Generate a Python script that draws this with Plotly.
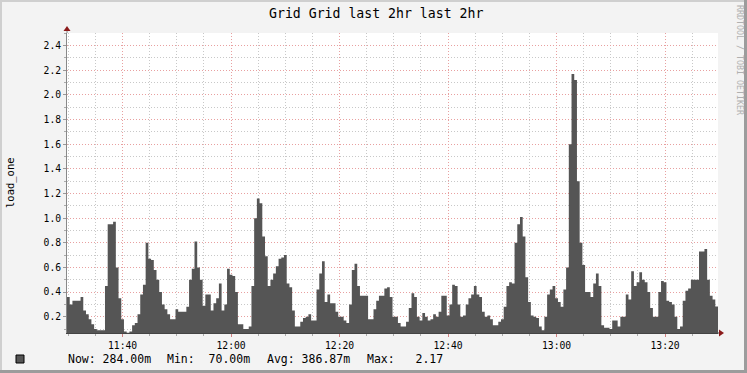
import pandas as pd
import plotly.graph_objects as go

# ---- data (load_one, 30 s steps, from 11:29:45) ----
start_time = "2024-01-01 11:29:45"
step_seconds = 30
load_one = [
    0.36, 0.30, 0.33, 0.33, 0.33, 0.36, 0.25, 0.22, 0.18, 0.14,
    0.10, 0.09, 0.09, 0.09, 0.45, 0.95, 0.95, 0.97, 0.60, 0.35,
    0.18, 0.08, 0.07, 0.08, 0.13, 0.15, 0.22, 0.38, 0.46, 0.80,
    0.67, 0.66, 0.58, 0.50, 0.40, 0.30, 0.26, 0.22, 0.18, 0.18,
    0.26, 0.24, 0.24, 0.24, 0.28, 0.50, 0.59, 0.81, 0.60, 0.50,
    0.29, 0.38, 0.38, 0.25, 0.31, 0.35, 0.47, 0.25, 0.30, 0.59,
    0.54, 0.53, 0.40, 0.14, 0.14, 0.10, 0.10, 0.12, 0.45, 1.00,
    1.16, 1.12, 0.85, 0.69, 0.45, 0.50, 0.55, 0.61, 0.67, 0.68,
    0.70, 0.47, 0.44, 0.25, 0.12, 0.12, 0.16, 0.19, 0.20, 0.22,
    0.17, 0.17, 0.42, 0.55, 0.65, 0.32, 0.38, 0.31, 0.31, 0.24,
    0.20, 0.20, 0.17, 0.15, 0.30, 0.58, 0.63, 0.45, 0.37, 0.37,
    0.37, 0.18, 0.18, 0.26, 0.33, 0.37, 0.37, 0.43, 0.44, 0.36,
    0.20, 0.20, 0.15, 0.12, 0.12, 0.16, 0.27, 0.39, 0.36, 0.20,
    0.17, 0.23, 0.20, 0.17, 0.18, 0.22, 0.20, 0.24, 0.37, 0.37,
    0.21, 0.30, 0.46, 0.45, 0.30, 0.20, 0.21, 0.30, 0.35, 0.38,
    0.45, 0.38, 0.36, 0.24, 0.20, 0.21, 0.18, 0.13, 0.13, 0.16,
    0.18, 0.28, 0.45, 0.48, 0.47, 0.80, 0.95, 1.01, 0.85, 0.52,
    0.32, 0.21, 0.20, 0.19, 0.12, 0.09, 0.20, 0.38, 0.42, 0.45,
    0.35, 0.32, 0.28, 0.42, 0.60, 1.60, 2.17, 2.12, 1.30, 0.80,
    0.62, 0.40, 0.40, 0.36, 0.47, 0.55, 0.45, 0.13, 0.11, 0.11,
    0.10, 0.17, 0.17, 0.12, 0.20, 0.20, 0.38, 0.34, 0.57, 0.45,
    0.48, 0.56, 0.50, 0.48, 0.40, 0.27, 0.20, 0.20, 0.40, 0.49,
    0.48, 0.33, 0.32, 0.30, 0.20, 0.10, 0.12, 0.33, 0.41, 0.43,
    0.50, 0.50, 0.50, 0.73, 0.73, 0.75, 0.50, 0.37, 0.34, 0.284,
]
y_range = [0.068, 2.502]
x_tick0 = "2024-01-01 11:40:00"
title_text = "Grid Grid last 2hr last 2hr"
y_title = "load_one"
watermark = "RRDTOOL / TOBI OETIKER"
legend_items = ["Now:\u00a0284.00m", "Min:\u00a0\u00a070.00m",
                "Avg:\u00a0386.87m", "Max:\u00a0\u00a0\u00a02.17"]

# step times (plus closing edge of last step)
times = pd.date_range(start_time, periods=len(load_one) + 1,
                      freq=f"{step_seconds}s")
ys = load_one + [load_one[-1]]

# ---- geometry (pixels) ----
W, H = 747, 373
L, R, T, B = 67, 29, 33, 40
PW, PH = W - L - R, H - T - B


def px(x):
    return (x - L) / PW


def py(y):
    return (H - B - y) / PH


MONO = "DejaVu Sans Mono"
AREA = "#555555"

fig = go.Figure()
fig.add_trace(go.Scatter(
    x=times, y=ys, mode="lines", line=dict(shape="hv", width=0, color=AREA),
    fill="tozeroy", fillcolor=AREA, hoverinfo="skip", showlegend=False))

grid_minor = "#c8c8c8"
grid_major = "#e8a0a0"
DASH = "1px,2px"

fig.update_layout(
    width=W, height=H, margin=dict(l=L, r=R, t=T, b=B, pad=0),
    paper_bgcolor="#f3f3f3", plot_bgcolor="#ffffff",
    showlegend=False,
    font=dict(family=MONO, size=10, color="#000000"),
    xaxis=dict(
        type="date", range=[times[0], times[-1]],
        tick0=x_tick0, dtick=20 * 60 * 1000, tickformat="%H:%M",
        showgrid=True, gridcolor=grid_major, griddash=DASH, gridwidth=1,
        ticks="outside", ticklen=3, tickcolor="#d08080",
        tickfont=dict(family=MONO, size=9.7, color="#000000"),
        showline=True, linecolor="#444444", linewidth=1,
        zeroline=False, fixedrange=True,
        minor=dict(dtick=5 * 60 * 1000, showgrid=True, gridcolor=grid_minor,
                   griddash=DASH, ticks="outside", ticklen=2,
                   tickcolor="#aaaaaa"),
    ),
    yaxis=dict(
        range=y_range, tick0=0, dtick=0.2, tickformat=".1f",
        showgrid=True, gridcolor=grid_major, griddash=DASH, gridwidth=1,
        ticks="outside", ticklen=3, tickcolor="#999999",
        tickfont=dict(family=MONO, size=9.7, color="#000000"),
        showline=True, linecolor="#888888", linewidth=1,
        zeroline=False, fixedrange=True,
        minor=dict(dtick=0.1, showgrid=True, gridcolor=grid_minor,
                   griddash=DASH, ticks="outside", ticklen=2,
                   tickcolor="#aaaaaa"),
    ),
)

shapes = []
# frame of the image
shapes.append(dict(type="rect", xref="paper", yref="paper", layer="above",
                   x0=px(0), x1=px(W), y0=py(0), y1=py(2),
                   fillcolor="#cfcfcf", line=dict(width=0)))
shapes.append(dict(type="rect", xref="paper", yref="paper", layer="above",
                   x0=px(0), x1=px(2), y0=py(0), y1=py(H),
                   fillcolor="#cfcfcf", line=dict(width=0)))
shapes.append(dict(type="rect", xref="paper", yref="paper", layer="above",
                   x0=px(0), x1=px(W), y0=py(H - 3), y1=py(H),
                   fillcolor="#9c9c9c", line=dict(width=0)))
shapes.append(dict(type="rect", xref="paper", yref="paper", layer="above",
                   x0=px(W - 3), x1=px(W), y0=py(0), y1=py(H),
                   fillcolor="#9c9c9c", line=dict(width=0)))
# axis extensions and arrows
shapes.append(dict(type="line", xref="paper", yref="paper",
                   x0=0, x1=0, y0=1, y1=py(29),
                   line=dict(color="#888888", width=1)))
shapes.append(dict(type="line", xref="paper", yref="paper",
                   x0=1, x1=px(720), y0=0, y1=0,
                   line=dict(color="#444444", width=1)))
shapes.append(dict(type="path", xref="paper", yref="paper",
                   path=f"M {px(63.5)} {py(31)} L {px(70.5)} {py(31)} "
                        f"L {px(67)} {py(26)} Z",
                   fillcolor="#8b1a1a", line=dict(width=0)))
shapes.append(dict(type="path", xref="paper", yref="paper",
                   path=f"M {px(719)} {py(329.5)} L {px(719)} {py(336.5)} "
                        f"L {px(724)} {py(333)} Z",
                   fillcolor="#8b1a1a", line=dict(width=0)))
# legend swatch
shapes.append(dict(type="rect", xref="paper", yref="paper",
                   x0=px(16), x1=px(24), y0=py(363), y1=py(355),
                   fillcolor=AREA, line=dict(color="#000000", width=1)))
fig.update_layout(shapes=shapes)

annotations = [
    dict(text=title_text, x=px(376), y=py(13), xanchor="center",
         yanchor="middle", font=dict(family=MONO, size=13.2, color="#000000")),
    dict(text=y_title, x=px(10), y=0.5, xanchor="center", yanchor="middle",
         textangle=-90, font=dict(family=MONO, size=10.5, color="#000000")),
    dict(text=watermark, x=px(740), y=py(60), xanchor="center",
         yanchor="middle", textangle=90,
         font=dict(family=MONO, size=8.3, color="#b0b0b0")),
]
legend_x = [66, 164.5, 265, 365]
for txt, lx in zip(legend_items, legend_x):
    annotations.append(dict(text=txt, x=px(lx), y=py(359), xanchor="left",
                            yanchor="middle",
                            font=dict(family=MONO, size=11.5,
                                      color="#000000")))
for a in annotations:
    a.update(xref="paper", yref="paper", showarrow=False)
fig.update_layout(annotations=annotations)

fig.write_html("out.html")
